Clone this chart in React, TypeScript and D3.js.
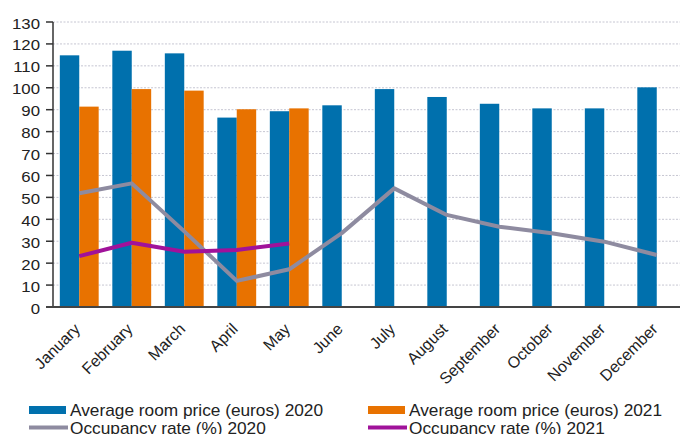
import React from 'react';
import * as d3 from 'd3';

const months = ['January','February','March','April','May','June','July','August','September','October','November','December'];
const price2020 = [114.8, 116.9, 115.7, 86.4, 89.3, 92.0, 99.4, 95.8, 92.7, 90.6, 90.6, 100.2];
const price2021 = [91.4, 99.4, 98.7, 90.2, 90.6];
const occ2020 = [51.9, 56.4, 34.5, 11.9, 17.2, 33.7, 54.1, 42.0, 36.6, 33.6, 29.8, 23.7];
const occ2021 = [23.2, 29.3, 25.2, 26.0, 29.0];
const yTicks = d3.range(0, 131, 10);
const legendItems = [
  { label: 'Average room price (euros) 2020', kind: 'bar', color: '#0070AD' },
  { label: 'Average room price (euros) 2021', kind: 'bar', color: '#E87200' },
  { label: 'Occupancy rate (%) 2020', kind: 'line', color: '#8E8BA0' },
  { label: 'Occupancy rate (%) 2021', kind: 'line', color: '#A0129A' },
];

const W = 680, H = 434;
const left = 53, top = 22, bottom = 307;
const font = '"Liberation Sans", Arial, sans-serif';

export default function App() {
  const x = d3.scaleBand<string>().domain(months).range([left, 683]).paddingInner(0.26).paddingOuter(0.13);
  const y = d3.scaleLinear().domain([0, 130]).range([bottom, top]);
  const bw = x.bandwidth() / 2;
  const cx = (i: number) => (x(months[i]) as number) + bw;
  const line = d3.line<number>().x((_, i) => cx(i)).y(d => y(d)).curve(d3.curveLinear);

  return (
    <svg width={W} height={H} style={{ position: 'absolute', left: 0, top: 0, background: '#fff' }} fontFamily={font}>
      {yTicks.filter(t => t > 0).map(t => (
        <line key={'g' + t} x1={left} x2={W} y1={y(t)} y2={y(t)} stroke="#c6c6d2" strokeWidth={1} strokeDasharray="2,1.5" />
      ))}
      {months.map((m, i) => (
        <rect key={'b20' + m} x={x(m)} y={y(price2020[i])} width={bw} height={bottom - y(price2020[i])} fill="#0070AD" />
      ))}
      {price2021.map((v, i) => (
        <rect key={'b21' + i} x={(x(months[i]) as number) + bw} y={y(v)} width={bw} height={bottom - y(v)} fill="#E87200" />
      ))}
      <path d={line(occ2020) as string} fill="none" stroke="#8E8BA0" strokeWidth={4} strokeLinejoin="round" />
      <path d={line(occ2021) as string} fill="none" stroke="#A0129A" strokeWidth={4} strokeLinejoin="round" />
      {/* axes */}
      <line x1={left} x2={left} y1={top} y2={bottom} stroke="#333" strokeWidth={1.5} />
      {yTicks.map(t => (
        <g key={'t' + t}>
          <line x1={46} x2={left} y1={y(t)} y2={y(t)} stroke="#333" strokeWidth={1.5} />
          <text transform={`translate(40,${y(t) + 6.5}) scale(1.12,1)`} textAnchor="end" fontSize={15} fill="#222">{t}</text>
        </g>
      ))}
      <line x1={46} x2={W} y1={bottom} y2={bottom} stroke="#444" strokeWidth={2} />
      {months.map((m, i) => (
        <text key={'m' + m} transform={`translate(${cx(i) + 2},${bottom + 23}) rotate(-45)`} textAnchor="end" fontSize={16} fill="#222">{m}</text>
      ))}
      {/* legend */}
      {legendItems.map((it, i) => {
        const col = i % 2, row = Math.floor(i / 2);
        const sx = col === 0 ? 29 : 368;
        const ty = row === 0 ? 416 : 433.5;
        return (
          <g key={'l' + i}>
            {it.kind === 'bar'
              ? <rect x={sx} y={406} width={37} height={8} fill={it.color} />
              : <line x1={sx} x2={sx + 39} y1={427.5} y2={427.5} stroke={it.color} strokeWidth={4} />}
            <text transform={`translate(${col === 0 ? 70 : 409},${ty}) scale(1.08,1)`} fontSize={16} fill="#222">{it.label}</text>
          </g>
        );
      })}
    </svg>
  );
}
